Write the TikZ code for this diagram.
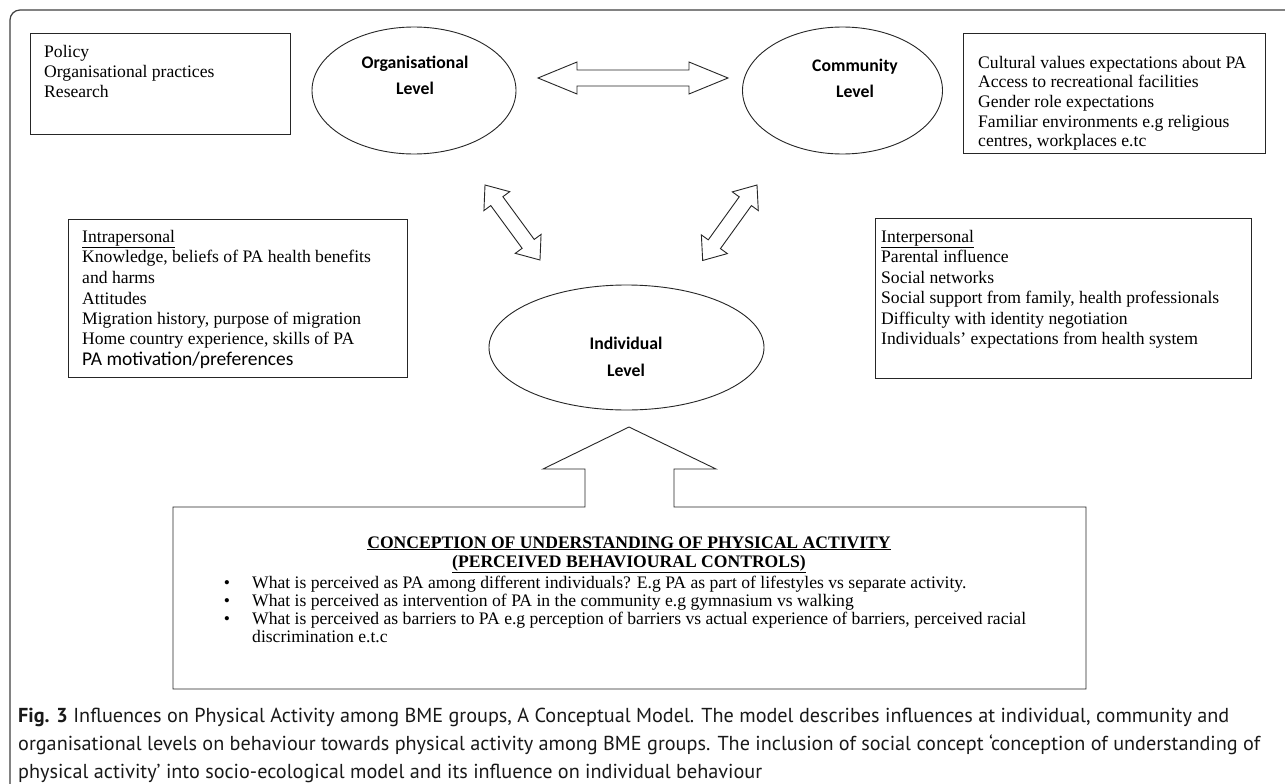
\documentclass[tikz,border=0pt]{standalone}
\usepackage{fontspec}
\setmainfont{Liberation Serif}
\newfontfamily\calfont{Carlito}
\newfontfamily\capfont{PT Sans}
\usetikzlibrary{shapes.geometric,calc}
\newlength\mycapw
\begin{document}
\settowidth\mycapw{\capfont\fontsize{10}{12}\selectfont organisational levels on behaviour towards physical activity among BME groups. The inclusion of social concept ‘conception of understanding of}%
\pgfmathsetmacro\mycapsize{10*1242/\mycapw}%
\begin{tikzpicture}[x=1pt,y=-1pt,
  box/.style={draw=black!85, line width=0.9pt},
  oval/.style={ellipse, draw=black!85, line width=0.9pt, inner sep=0pt},
  tx/.style={inner sep=0pt, anchor=base west, font=\fontsize{17.6}{20}\selectfont},
  ttl/.style={inner sep=0pt, anchor=base, font=\bfseries\fontsize{17.6}{20}\selectfont},
  lbl/.style={inner sep=0pt, anchor=base, font=\calfont\bfseries\fontsize{17.7}{20}\selectfont},
  blk/.style={draw=black!85, line width=0.9pt, fill=white, line join=miter},
  captxt/.style={inner sep=0pt, anchor=base west, font=\capfont\fontsize{\mycapsize}{24}\selectfont, text=black!90}
]
\useasboundingbox (0,0) rectangle (1285,784);
\clip (0,0) rectangle (1285,784);
\fill[white] (0,0) rectangle (1285,784);
% outer frame
\draw[black!75, line width=1.2pt, rounded corners=10pt] (10,10) rectangle (1330,830);

% policy box
\draw[box] (30,33) rectangle (290,134);
\node[tx] (p1) at (44,58) {Policy};
\node[tx] (p2) at (44,77.5) {Organisational practices};
\node[tx] (p3) at (44,97) {Research};

% ellipses
\node[oval, minimum width=204, minimum height=127] (org) at (414,90.5) {};
\node[lbl] (orgt1) at (415,69) {Organisational};
\node[lbl] (orgt2) at (415,94) {Level};
\node[oval, minimum width=200, minimum height=127] (com) at (842.5,90.5) {};
\node[lbl] (comt1) at (855,71) {Community};
\node[lbl] (comt2) at (855,97) {Level};
\node[oval, minimum width=275, minimum height=125] (ind) at (626.5,347.5) {};
\node[lbl] (indt1) at (626,349) {Individual};
\node[lbl] (indt2) at (626,376) {Level};

% right box
\draw[box] (963,33) rectangle (1265,153);
\node[tx] (r1) at (978,68.5) {Cultural values expectations about PA};
\node[tx] (r2) at (978,88) {Access to recreational facilities};
\node[tx] (r3) at (978,107.5) {Gender role expectations};
\node[tx] (r4) at (978,127) {Familiar environments e.g religious};
\node[tx] (r5) at (978,146.5) {centres, workplaces e.tc};

% horizontal double arrow
\coordinate (hl) at (538,78);
\coordinate (hr) at (728,78);
\draw[blk] (hl) -- ($(hl)+(39,-16)$) -- ($(hl)+(39,-8)$) -- ($(hr)+(-39,-8)$) -- ($(hr)+(-39,-16)$) -- (hr)
  -- ($(hr)+(-39,16)$) -- ($(hr)+(-39,8)$) -- ($(hl)+(39,8)$) -- ($(hl)+(39,16)$) -- cycle;

% diagonal double arrows
\coordinate (dla) at (485,185);
\coordinate (dra) at (757,185);
\begin{scope}[shift={(dla)}, rotate=-53.75]
\draw[blk] (0,0) -- (20,16) -- (20,7.5) -- (73,7.5) -- (73,16) -- (93,0) -- (73,-16) -- (73,-7.5) -- (20,-7.5) -- (20,-16) -- cycle;
\end{scope}
\begin{scope}[shift={(dra)}, rotate=-125.75]
\draw[blk] (0,0) -- (20,16) -- (20,7.5) -- (73,7.5) -- (73,16) -- (93,0) -- (73,-16) -- (73,-7.5) -- (20,-7.5) -- (20,-16) -- cycle;
\end{scope}

% intrapersonal box
\draw[box] (68,219) rectangle (407,377);
\node[tx] (a1) at (82,242) {\underline{Intrapersonal}};
\node[tx] (a2) at (82,262.5) {Knowledge, beliefs of PA health benefits};
\node[tx] (a3) at (82,283.5) {and harms};
\node[tx] (a4) at (82,304) {Attitudes};
\node[tx] (a5) at (82,324) {Migration history, purpose of migration};
\node[tx] (a6) at (82,344) {Home country experience, skills of PA};
\node[tx, font=\calfont\fontsize{19.5}{20}\selectfont] (a7) at (82,365) {PA motivation/preferences};

% interpersonal box
\draw[box] (875,218) rectangle (1251,378);
\node[tx] (b1) at (881,242) {\underline{Interpersonal}};
\node[tx] (b2) at (881,262.5) {Parental influence};
\node[tx] (b3) at (881,283) {Social networks};
\node[tx] (b4) at (881,303.5) {Social support from family, health professionals};
\node[tx] (b5) at (881,324) {Difficulty with identity negotiation};
\node[tx] (b6) at (881,344.5) {Individuals’ expectations from health system};

% bottom box with up arrow
\draw[box, line join=miter] (585,507) -- (585,469) -- (543,469) -- (629,427) -- (716,469) -- (674,469)
  -- (674,507) -- (1086,507) -- (1086,689) -- (173,689) -- (173,507) -- cycle;
\node[ttl] (t1) at (629,548) {\underline{CONCEPTION OF UNDERSTANDING OF PHYSICAL ACTIVITY}};
\node[ttl] (t2) at (629,567) {\underline{(PERCEIVED BEHAVIOURAL CONTROLS)}};
\node[tx, anchor=base] (u1) at (227,588) {•};
\node[tx, anchor=base] (u2) at (227,606) {•};
\node[tx, anchor=base] (u3) at (227,624) {•};
\node[tx] (c1) at (252,588) {What is perceived as PA among different individuals? E.g PA as part of lifestyles vs separate activity.};
\node[tx] (c2) at (252,606) {What is perceived as intervention of PA in the community e.g gymnasium vs walking};
\node[tx] (c3) at (252,624) {What is perceived as barriers to PA e.g perception of barriers vs actual experience of barriers, perceived racial};
\node[tx] (c4) at (252,642) {discrimination e.t.c};

% caption
\node[captxt] (f1) at (18,722) {\textbf{Fig. 3} Influences on Physical Activity among BME groups, A Conceptual Model. The model describes influences at individual, community and};
\node[captxt] (f2) at (18,750) {organisational levels on behaviour towards physical activity among BME groups. The inclusion of social concept ‘conception of understanding of};
\node[captxt] (f3) at (18,778) {physical activity’ into socio-ecological model and its influence on individual behaviour};
\end{tikzpicture}
\end{document}
